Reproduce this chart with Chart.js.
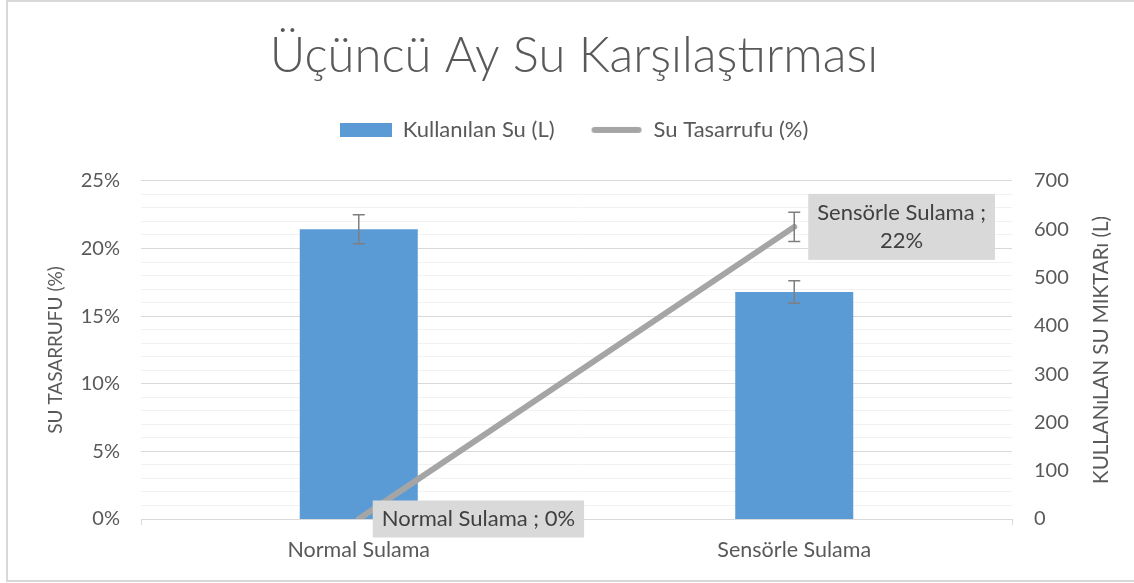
<!DOCTYPE html>
<html lang="tr">
<head>
<meta charset="utf-8">
<title>Üçüncü Ay Su Karşılaştırması</title>
<script src="https://cdn.jsdelivr.net/npm/chart.js@4.4.1/dist/chart.umd.min.js"></script>
<style>
  html, body { margin: 0; padding: 0; background: #fff; }
  #wrap { position: relative; width: 1134px; height: 583px; overflow: hidden; }
  #frame { position: absolute; left: 6px; top: 0; width: 1140px; height: 578px;
           border: 2px solid #d9d9d9; pointer-events: none; }
</style>
</head>
<body>
<div id="wrap">
  <canvas id="suChart" width="1134" height="583"></canvas>
  <div id="frame"></div>
</div>
<script>
// veriler
const kategoriler = ['Normal Sulama', 'Sensörle Sulama'];
const kullanilanSu = [600, 470];   // litre
const suTasarrufu = [0, 21.6];     // yüzde
const hataOrani = 0.05;            // hata çubukları: ±%5
const yuzdeTikleri = [0, 5, 10, 15, 20, 25];
const litreTikleri = [0, 100, 200, 300, 400, 500, 600, 700];

const FONT = 'Lato, "Open Sans", sans-serif';
const GRI_YAZI = '#595959';

// lejant simgeleri
function simge(w, h, ciz) {
  const c = document.createElement('canvas');
  c.width = w; c.height = h;
  ciz(c.getContext('2d'));
  return c;
}
const barSimge = simge(52, 14, g => { g.fillStyle = '#5b9bd5'; g.fillRect(0, 0, 52, 14); });
const cizgiSimge = simge(52, 8, g => {
  g.strokeStyle = '#a5a5a5'; g.lineWidth = 6; g.lineCap = 'round';
  g.beginPath(); g.moveTo(4, 4); g.lineTo(48, 4); g.stroke();
});

// lejant ile grafik alanı arasında boşluk
const lejantBoslugu = {
  id: 'lejantBoslugu',
  beforeLayout(chart) {
    const lg = chart.legend;
    if (!lg || lg._bosluk) return;
    const fit = lg.fit;
    lg.fit = function () { fit.call(this); this.height += 30; };
    lg._bosluk = true;
  }
};

// hata çubukları
const hataCubuklari = {
  id: 'hataCubuklari',
  afterDatasetsDraw(chart) {
    const ctx = chart.ctx;
    ctx.save();
    ctx.strokeStyle = '#7f7f7f';
    ctx.lineWidth = 1.5;
    chart.data.datasets.forEach((ds, i) => {
      const meta = chart.getDatasetMeta(i);
      const eksen = chart.scales[ds.yAxisID];
      meta.data.forEach((el, j) => {
        const v = ds.data[j];
        if (!v) return;
        const x = el.x;
        const y1 = eksen.getPixelForValue(v * (1 + hataOrani));
        const y2 = eksen.getPixelForValue(v * (1 - hataOrani));
        ctx.beginPath();
        ctx.moveTo(x, y1); ctx.lineTo(x, y2);
        ctx.moveTo(x - 6, y1); ctx.lineTo(x + 6, y1);
        ctx.moveTo(x - 6, y2); ctx.lineTo(x + 6, y2);
        ctx.stroke();
      });
    });
    ctx.restore();
  }
};

// çizgi noktalarının etiketleri
const veriEtiketleri = {
  id: 'veriEtiketleri',
  afterDatasetsDraw(chart) {
    const ctx = chart.ctx;
    const meta = chart.getDatasetMeta(1);
    const pad = 9, satir = 28;
    ctx.save();
    ctx.font = '22px ' + FONT;
    ctx.textBaseline = 'middle';
    ctx.textAlign = 'center';
    meta.data.forEach((el, j) => {
      const kat = kategoriler[j];
      const deger = Math.round(suTasarrufu[j]) + '%';
      let satirlar = [kat + ' ; ' + deger];
      let w = ctx.measureText(satirlar[0]).width + 2 * pad;
      const x0 = el.x + 14;
      if (x0 + w > chart.chartArea.right) {
        satirlar = [kat + ' ;', deger];
        w = Math.max(...satirlar.map(s => ctx.measureText(s).width)) + 2 * pad;
      }
      const h = satirlar.length === 1 ? 37 : 66;
      const y0 = el.y - h / 2;
      ctx.fillStyle = '#d9d9d9';
      ctx.fillRect(x0, y0, w, h);
      ctx.fillStyle = '#404040';
      satirlar.forEach((s, k) => {
        const yy = el.y + (k - (satirlar.length - 1) / 2) * satir;
        ctx.fillText(s, x0 + w / 2, yy);
      });
    });
    ctx.restore();
  }
};

// eksen başlıkları (ikisi de aşağıdan yukarı okunur)
const eksenBasliklari = {
  id: 'eksenBasliklari',
  afterDraw(chart) {
    const ctx = chart.ctx;
    const yc = (chart.chartArea.top + chart.chartArea.bottom) / 2;
    ctx.save();
    ctx.fillStyle = GRI_YAZI;
    ctx.textAlign = 'center';
    ctx.textBaseline = 'middle';
    [[56, 19, 'SU TASARRUFU (%)'], [1101, 20.5, 'KULLANıLAN SU MIKTARı (L)']].forEach(([x, fs, t]) => {
      ctx.save();
      ctx.font = fs + 'px ' + FONT;
      ctx.translate(x, yc);
      ctx.rotate(-Math.PI / 2);
      ctx.fillText(t, 0, 0);
      ctx.restore();
    });
    ctx.restore();
  }
};

new Chart(document.getElementById('suChart'), {
  type: 'bar',
  data: {
    labels: kategoriler,
    datasets: [{
      type: 'bar',
      label: 'Kullanılan Su (L)',
      data: kullanilanSu,
      yAxisID: 'y1',
      backgroundColor: '#5b9bd5',
      categoryPercentage: 1,
      barPercentage: 0.271,
      order: 1
    }, {
      type: 'line',
      label: 'Su Tasarrufu (%)',
      data: suTasarrufu,
      yAxisID: 'y',
      borderColor: '#a5a5a5',
      backgroundColor: '#a5a5a5',
      borderWidth: 6,
      borderCapStyle: 'round',
      pointRadius: 0,
      order: 0
    }]
  },
  options: {
    responsive: false,
    animation: false,
    layout: { padding: { left: 14, right: 0, top: 0, bottom: 0 } },
    plugins: {
      title: {
        display: true,
        text: 'Üçüncü Ay Su Karşılaştırması',
        color: GRI_YAZI,
        font: { family: FONT, size: 49, weight: '300', lineHeight: 1.1 },
        padding: { top: 29, bottom: 0 }
      },
      legend: {
        labels: {
          color: GRI_YAZI,
          font: { family: FONT, size: 22 },
          padding: 36,
          usePointStyle: true,
          pointStyleWidth: 52,
          boxHeight: 14,
          sort: (a, b) => a.datasetIndex - b.datasetIndex,
          generateLabels(chart) {
            return Chart.defaults.plugins.legend.labels.generateLabels(chart).map(it => {
              it.pointStyle = it.datasetIndex === 0 ? barSimge : cizgiSimge;
              return it;
            });
          }
        }
      },
      tooltip: { enabled: false }
    },
    scales: {
      x: {
        offset: true,
        grid: { offset: true, drawOnChartArea: false, tickLength: 6, color: '#d9d9d9' },
        border: { color: '#d9d9d9' },
        ticks: { color: GRI_YAZI, font: { family: FONT, size: 21.5 }, padding: 12 },
        afterFit(s) { s.height = 64; }
      },
      y: {
        position: 'left',
        min: yuzdeTikleri[0],
        max: yuzdeTikleri[yuzdeTikleri.length - 1],
        border: { display: false },
        grid: {
          drawTicks: false,
          color: c => (yuzdeTikleri.includes(c.tick.value) ? '#d9d9d9' : '#f2f2f2')
        },
        ticks: {
          stepSize: 1,
          autoSkip: false,
          padding: 21,
          color: GRI_YAZI,
          font: { family: FONT, size: 20 },
          callback: v => (yuzdeTikleri.includes(v) ? v + '%' : '')
        },
        afterFit(s) { s.width = 127; }
      },
      y1: {
        position: 'right',
        min: litreTikleri[0],
        max: litreTikleri[litreTikleri.length - 1],
        border: { display: false },
        grid: { display: false, drawOnChartArea: false, drawTicks: false },
        ticks: {
          stepSize: 100,
          padding: 22,
          color: GRI_YAZI,
          font: { family: FONT, size: 20 }
        },
        afterFit(s) { s.width = 122; }
      }
    }
  },
  plugins: [lejantBoslugu, hataCubuklari, veriEtiketleri, eksenBasliklari]
});
</script>
</body>
</html>
